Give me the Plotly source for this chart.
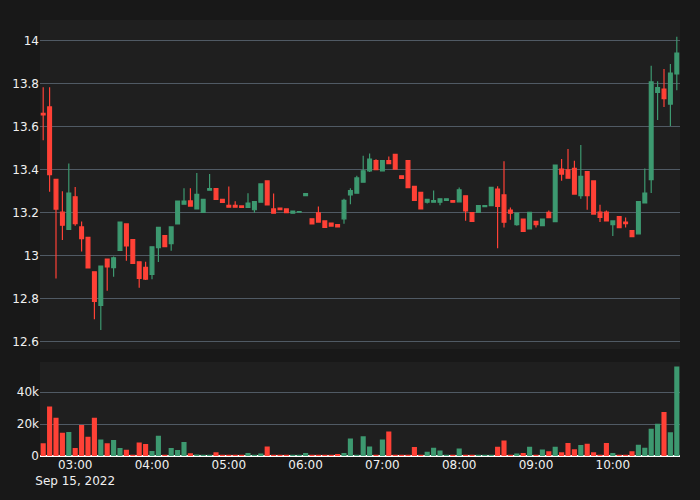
import pandas as pd
import plotly.graph_objects as go
from plotly.subplots import make_subplots

times = pd.date_range("2022-09-15 02:35", periods=100, freq="5min")

opens = [13.662, 13.692, 13.355, 13.203, 13.123, 13.274, 13.134, 13.086, 12.926, 12.769,
         12.985, 12.945, 13.025, 13.148, 13.075, 12.972, 12.946, 12.914, 13.038, 13.094,
         13.057, 13.148, 13.240, 13.255, 13.218, 13.202, 13.305, 13.312, 13.262, 13.234,
         13.234, 13.232, 13.225, 13.214, 13.249, 13.348, 13.218, 13.222, 13.218, 13.198,
         13.203, 13.280, 13.172, 13.200, 13.162, 13.152, 13.145, 13.172, 13.283, 13.291,
         13.342, 13.395, 13.442, 13.395, 13.443, 13.471, 13.372, 13.442, 13.323, 13.295,
         13.249, 13.249, 13.249, 13.257, 13.257, 13.251, 13.279, 13.201, 13.202, 13.228,
         13.233, 13.310, 13.283, 13.213, 13.145, 13.171, 13.125, 13.160, 13.140, 13.202,
         13.159, 13.403, 13.400, 13.406, 13.280, 13.391, 13.348, 13.203, 13.203, 13.145,
         13.182, 13.157, 13.117, 13.102, 13.246, 13.354, 13.760, 13.775, 13.705, 13.845]
highs = [13.783, 13.783, 13.355, 13.300, 13.429, 13.320, 13.160, 13.086, 12.926, 12.952,
         12.988, 12.997, 13.157, 13.148, 13.075, 12.972, 12.972, 13.042, 13.132, 13.094,
         13.134, 13.254, 13.314, 13.314, 13.385, 13.262, 13.380, 13.312, 13.262, 13.322,
         13.254, 13.232, 13.291, 13.252, 13.334, 13.348, 13.290, 13.222, 13.218, 13.208,
         13.206, 13.289, 13.172, 13.229, 13.162, 13.152, 13.145, 13.265, 13.314, 13.372,
         13.465, 13.475, 13.449, 13.443, 13.462, 13.471, 13.372, 13.442, 13.323, 13.295,
         13.262, 13.303, 13.265, 13.265, 13.257, 13.318, 13.279, 13.201, 13.233, 13.235,
         13.318, 13.323, 13.440, 13.225, 13.198, 13.171, 13.202, 13.160, 13.171, 13.210,
         13.422, 13.450, 13.496, 13.442, 13.515, 13.391, 13.348, 13.237, 13.211, 13.162,
         13.182, 13.178, 13.117, 13.252, 13.406, 13.883, 13.811, 13.868, 13.891, 14.018]
lows = [13.537, 13.298, 12.895, 13.074, 13.120, 13.140, 13.020, 12.944, 12.705, 12.655,
        12.837, 12.903, 13.025, 12.977, 12.965, 12.852, 12.888, 12.891, 12.971, 13.042,
        13.023, 13.148, 13.240, 13.231, 13.218, 13.202, 13.305, 13.262, 13.248, 13.226,
        13.225, 13.225, 13.225, 13.200, 13.249, 13.234, 13.198, 13.214, 13.200, 13.198,
        13.203, 13.280, 13.148, 13.157, 13.132, 13.138, 13.134, 13.149, 13.240, 13.291,
        13.342, 13.390, 13.400, 13.395, 13.428, 13.403, 13.360, 13.317, 13.257, 13.218,
        13.243, 13.249, 13.235, 13.257, 13.249, 13.251, 13.163, 13.160, 13.202, 13.228,
        13.233, 13.035, 13.131, 13.168, 13.140, 13.113, 13.125, 13.131, 13.140, 13.177,
        13.159, 13.349, 13.361, 13.287, 13.265, 13.214, 13.194, 13.157, 13.160, 13.092,
        13.131, 13.131, 13.089, 13.102, 13.246, 13.292, 13.631, 13.692, 13.603, 13.769]
closes = [13.655, 13.377, 13.217, 13.142, 13.292, 13.149, 13.080, 12.944, 12.788, 12.952,
          12.948, 12.991, 13.157, 13.046, 12.965, 12.895, 12.892, 13.042, 13.132, 13.042,
          13.134, 13.254, 13.254, 13.231, 13.286, 13.262, 13.312, 13.262, 13.248, 13.226,
          13.226, 13.225, 13.245, 13.252, 13.334, 13.237, 13.198, 13.214, 13.200, 13.208,
          13.206, 13.289, 13.148, 13.157, 13.132, 13.138, 13.134, 13.258, 13.303, 13.362,
          13.395, 13.449, 13.400, 13.443, 13.428, 13.403, 13.360, 13.317, 13.257, 13.218,
          13.262, 13.257, 13.265, 13.265, 13.249, 13.307, 13.209, 13.160, 13.233, 13.233,
          13.318, 13.230, 13.156, 13.198, 13.198, 13.113, 13.202, 13.145, 13.171, 13.177,
          13.422, 13.380, 13.361, 13.287, 13.369, 13.280, 13.194, 13.178, 13.162, 13.162,
          13.131, 13.150, 13.089, 13.252, 13.291, 13.808, 13.782, 13.731, 13.849, 13.942]
volumes = [8000, 31000, 24000, 14600, 15000, 5000, 19400, 12000, 24000, 10300,
           8000, 10000, 5000, 3900, 600, 8400, 7500, 3200, 12700, 200,
           5000, 3700, 8800, 1700, 900, 600, 400, 2400, 400, 400,
           600, 200, 1900, 300, 1500, 6000, 600, 300, 300, 600,
           200, 1900, 400, 200, 600, 200, 1300, 1900, 11000, 300,
           12300, 6000, 300, 10300, 15300, 600, 200, 400, 5600, 600,
           2600, 5200, 3400, 200, 200, 4700, 600, 200, 600, 200,
           400, 5800, 9700, 600, 1500, 1900, 5800, 600, 4000, 3000,
           5800, 2400, 8200, 4300, 6900, 7700, 2400, 400, 8200, 1900,
           600, 600, 3000, 7100, 5200, 17000, 20200, 27500, 14800, 56000]

UP = "#3D9970"
DOWN = "#FF4136"
vol_colors = [UP if c >= o else DOWN for o, c in zip(opens, closes)]

fig = make_subplots(rows=2, cols=1, shared_xaxes=True, vertical_spacing=0.03)
fig.add_trace(go.Candlestick(
    x=times, open=opens, high=highs, low=lows, close=closes,
    increasing=dict(line=dict(color=UP, width=1.2), fillcolor=UP),
    decreasing=dict(line=dict(color=DOWN, width=1.2), fillcolor=DOWN),
    showlegend=False), row=1, col=1)
fig.add_trace(go.Bar(x=times, y=volumes, marker=dict(color=vol_colors, line=dict(width=0)),
                     showlegend=False), row=2, col=1)

grid = "#505a64"
xr = ["2022-09-15 02:32:30", "2022-09-15 10:52:30"]
fig.update_layout(
    width=700, height=500,
    margin=dict(l=40, r=20, t=20, b=44),
    paper_bgcolor="#181818", plot_bgcolor="#1f1f1f",
    font=dict(family="DejaVu Sans", color="#f0f0f0", size=12),
    bargap=0.2, boxgap=0.15,
    xaxis=dict(rangeslider=dict(visible=False), showgrid=False, showticklabels=False, range=xr),
    xaxis2=dict(showgrid=False, dtick=3600000, range=xr),
    yaxis=dict(domain=[0.245, 1.0], range=[12.566, 14.096], dtick=0.2, tick0=12.6,
               gridcolor=grid, zeroline=False),
    yaxis2=dict(domain=[0.0, 0.216], range=[0, 59000], dtick=20000,
                gridcolor=grid, zeroline=True, zerolinecolor="#ffffff", zerolinewidth=2),
)
fig.write_html("out.html")
